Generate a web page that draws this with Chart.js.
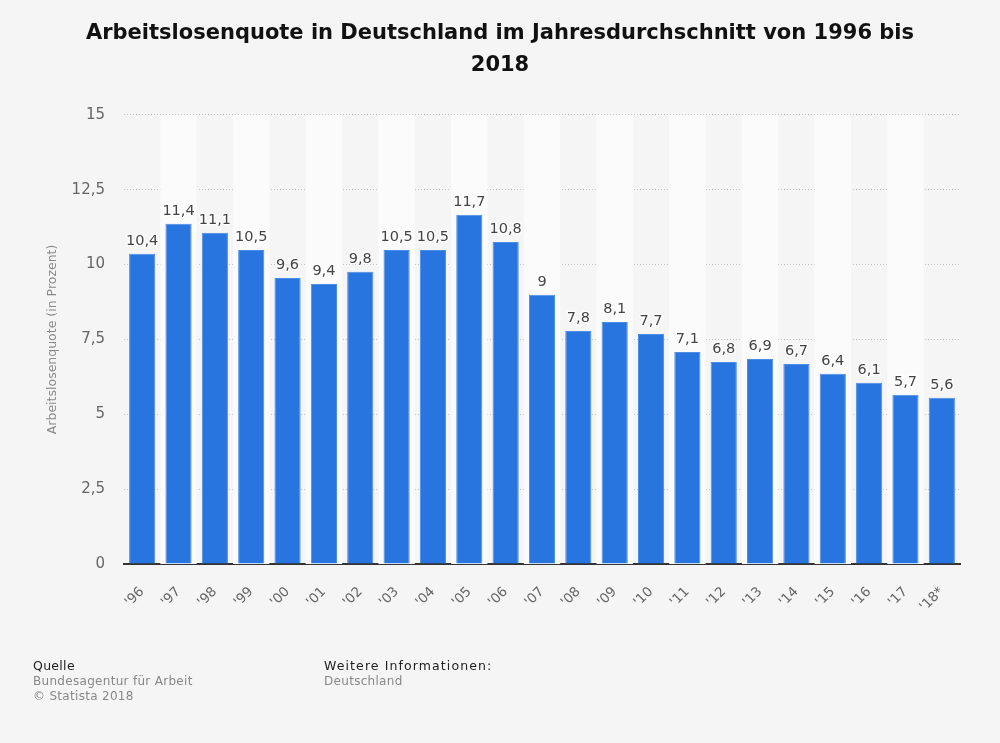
<!DOCTYPE html>
<html lang="de">
<head>
<meta charset="utf-8">
<title>Arbeitslosenquote</title>
<script src="https://cdn.jsdelivr.net/npm/chart.js@4"></script>
<style>
  html, body { margin: 0; background: #f5f5f5; }
  #wrap { position: relative; width: 1000px; height: 743px; font-family: "DejaVu Sans", sans-serif; }
  canvas { display: block; }
  .note { position: absolute; font-size: 12px; line-height: 15px; color: #888; letter-spacing: 0.3px; }
  .note b { display: block; font-weight: normal; color: #222; font-size: 12.5px; line-height: 17px; }
</style>
</head>
<body>
<div id="wrap">
  <canvas id="chart" width="1000" height="743"></canvas>
  <div class="note" style="left:33px;top:657px"><b>Quelle</b>Bundesagentur für Arbeit<br>© Statista 2018</div>
  <div class="note" style="left:324px;top:657px"><b style="letter-spacing:1.1px">Weitere Informationen:</b>Deutschland</div>
</div>
<script>
const years = ["'96", "'97", "'98", "'99", "'00", "'01", "'02", "'03", "'04", "'05", "'06", "'07",
  "'08", "'09", "'10", "'11", "'12", "'13", "'14", "'15", "'16", "'17", "'18*"];
const quote = [10.36, 11.36, 11.06, 10.49, 9.55, 9.35, 9.76, 10.49, 10.49, 11.66, 10.75, 8.99,
  7.78, 8.08, 7.68, 7.08, 6.75, 6.85, 6.68, 6.35, 6.05, 5.65, 5.55];
const quoteLabels = ["10,4", "11,4", "11,1", "10,5", "9,6", "9,4", "9,8", "10,5", "10,5", "11,7", "10,8", "9",
  "7,8", "8,1", "7,7", "7,1", "6,8", "6,9", "6,7", "6,4", "6,1", "5,7", "5,6"];
const titleLines = ["Arbeitslosenquote in Deutschland im Jahresdurchschnitt von 1996 bis", "2018"];

// every second category gets a lighter stripe behind the bars
const stripes = {
  id: "stripes",
  beforeDatasetsDraw(chart) {
    const { ctx, chartArea, scales } = chart;
    const step = scales.x.getPixelForValue(1) - scales.x.getPixelForValue(0);
    ctx.save();
    ctx.fillStyle = "#fbfbfb";
    years.forEach((y, i) => {
      if (i % 2 === 1) {
        ctx.fillRect(scales.x.getPixelForValue(i) - step / 2, chartArea.top, step, chartArea.height);
      }
    });
    ctx.restore();
  }
};

const valueLabels = {
  id: "valueLabels",
  afterDatasetsDraw(chart) {
    const { ctx } = chart;
    ctx.save();
    ctx.font = '14.5px "DejaVu Sans"';
    ctx.textAlign = "center";
    ctx.lineWidth = 3;
    ctx.lineJoin = "round";
    ctx.strokeStyle = "rgba(255,255,255,0.75)";
    ctx.fillStyle = "#444";
    chart.getDatasetMeta(0).data.forEach((bar, i) => {
      ctx.strokeText(quoteLabels[i], bar.x, bar.y - 9);
      ctx.fillText(quoteLabels[i], bar.x, bar.y - 9);
    });
    ctx.restore();
  }
};

new Chart(document.getElementById("chart"), {
  type: "bar",
  data: {
    labels: years,
    datasets: [{
      data: quote,
      backgroundColor: "#2975df",
      borderColor: "#4a8ce6",
      borderWidth: 1,
      categoryPercentage: 1,
      barPercentage: 0.72
    }]
  },
  options: {
    responsive: false,
    animation: false,
    layout: { padding: { left: 40, right: 40 } },
    plugins: {
      legend: { display: false },
      tooltip: { enabled: false },
      title: {
        display: true,
        text: titleLines,
        color: "#111",
        font: { family: "DejaVu Sans", size: 21, weight: "bold", lineHeight: 1.52 },
        padding: { top: 18, bottom: 33 }
      }
    },
    scales: {
      x: {
        grid: { display: false },
        border: { display: true, color: "#333", width: 2 },
        ticks: {
          color: "#666",
          font: { family: "DejaVu Sans", size: 13.5 },
          minRotation: 45,
          maxRotation: 45,
          autoSkip: false,
          padding: 12
        },
        afterFit(scale) { scale.height = 179; }
      },
      y: {
        min: 0,
        max: 15,
        border: { display: false, dash: [1, 2] },
        grid: { color: "#c4c4c4", drawTicks: false, lineWidth: 1 },
        ticks: {
          stepSize: 2.5,
          color: "#666",
          padding: 19,
          font: { family: "DejaVu Sans", size: 15 },
          callback: (v) => String(v).replace(".", ",")
        },
        title: {
          display: true,
          text: "Arbeitslosenquote (in Prozent)",
          color: "#888",
          font: { family: "DejaVu Sans", size: 12.5 },
          padding: { top: 5, bottom: 0 }
        },
        afterFit(scale) { scale.width = 84; }
      }
    }
  },
  plugins: [stripes, valueLabels]
});
</script>
</body>
</html>
